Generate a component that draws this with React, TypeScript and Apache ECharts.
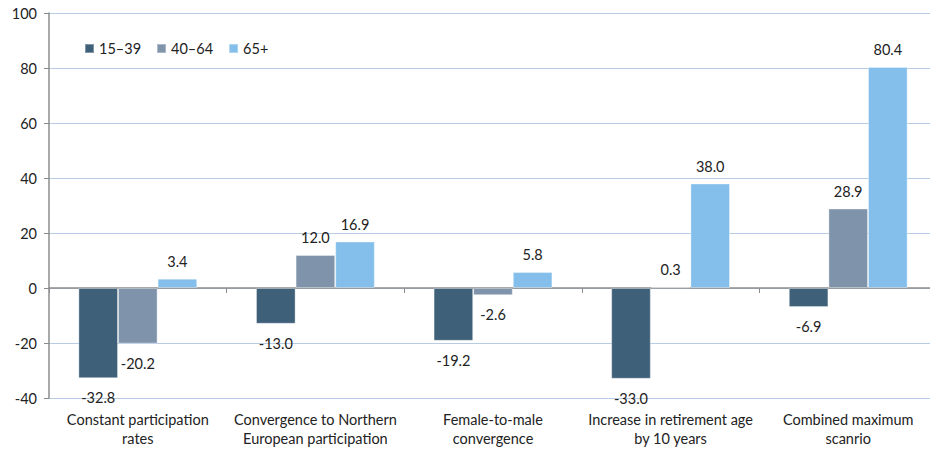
import React, { useEffect, useRef } from "react";
import * as echarts from "echarts";

const categories = [
  "Constant participation\nrates",
  "Convergence to Northern\nEuropean participation",
  "Female-to-male\nconvergence",
  "Increase in retirement age\nby 10 years",
  "Combined maximum\nscanrio",
];
const seriesNames = ["15–39", "40–64", "65+"];
const age15to39 = [-32.8, -13.0, -19.2, -33.0, -6.9];
const age40to64 = [-20.2, 12.0, -2.6, 0.3, 28.9];
const age65plus = [3.4, 16.9, 5.8, 38.0, 80.4];
const colors = ["#3E6079", "#7F94AB", "#83BFEA"];

const FONT = "Lato, 'Liberation Sans', sans-serif";
const FS = 14.5;

export default function App() {
  const ref = useRef<HTMLDivElement>(null);
  useEffect(() => {
    if (!ref.current) return;
    const chart = echarts.init(ref.current, undefined, { renderer: "svg" });
    const allSeries = [age15to39, age40to64, age65plus];
    chart.setOption({
      animation: false,
      textStyle: { fontFamily: FONT },
      legend: {
        left: 79,
        top: 36,
        itemWidth: 9,
        itemHeight: 9,
        itemGap: 15,
        icon: "rect",
        textStyle: { fontSize: FS, color: "#222", fontFamily: FONT },
        data: seriesNames,
      },
      grid: { left: 49, top: 13, right: 3, bottom: 52, containLabel: false },
      xAxis: [
        {
          type: "category",
          data: categories,
          axisLine: { onZero: true, lineStyle: { color: "#8C8C8C", width: 1.5 } },
          axisTick: { show: true, length: 5, lineStyle: { color: "#8C8C8C" } },
          axisLabel: { show: false },
        },
        {
          type: "category",
          data: categories,
          position: "bottom",
          axisLine: { show: false, onZero: false },
          axisTick: { show: false },
          axisLabel: {
            show: true,
            interval: 0,
            fontSize: FS,
            color: "#222",
            lineHeight: 19,
            margin: 12,
            fontFamily: FONT,
          },
        },
      ],
      yAxis: {
        type: "value",
        min: -40,
        max: 100,
        interval: 20,
        axisLine: { show: true, lineStyle: { color: "#8C8C8C", width: 1.5 } },
        axisTick: { show: true, length: 5, lineStyle: { color: "#8C8C8C" } },
        axisLabel: { fontSize: FS, color: "#222", margin: 12, fontFamily: FONT },
        splitLine: { show: true, lineStyle: { color: "#B8CCE4", width: 1.2 } },
      },
      series: allSeries.map((vals, i) => ({
        name: seriesNames[i],
        type: "bar",
        xAxisIndex: 0,
        barWidth: "22.3%",
        barGap: "0%",
        itemStyle: { color: colors[i], borderColor: "rgba(255,255,255,0.35)", borderWidth: 1 },
        data: vals.map((v) => ({
          value: v,
          label: {
            show: true,
            position: v < 0 ? "bottom" : "top",
            distance: v < 0 ? 12 : 10,
            formatter: () => v.toFixed(1),
            fontSize: FS,
            color: "#222",
            fontFamily: FONT,
          },
        })),
      })),
    });
    return () => chart.dispose();
  }, []);
  return (
    <div style={{ width: 930, height: 450, position: "absolute", left: 0, top: 0, overflow: "hidden" }}>
      <div ref={ref} style={{ width: 940, height: 450 }} />
    </div>
  );
}
